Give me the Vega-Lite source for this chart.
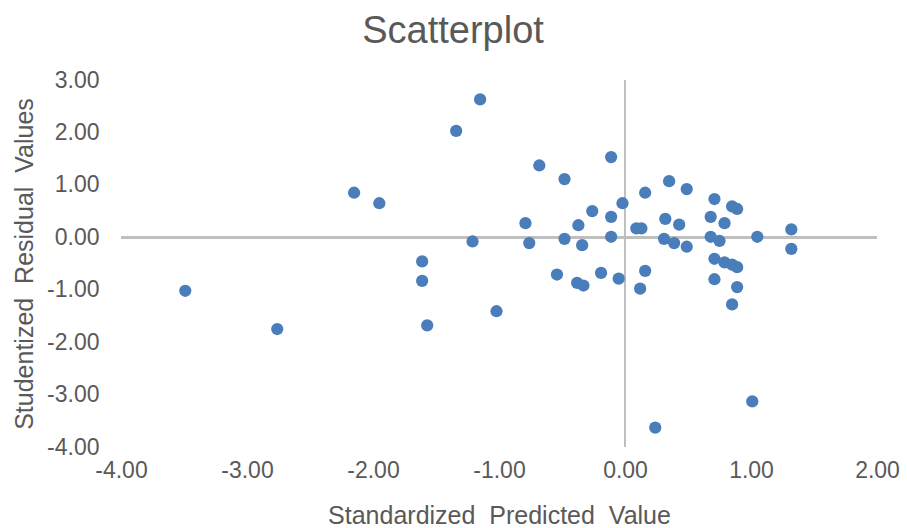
{
  "$schema": "https://vega.github.io/schema/vega-lite/v6.json",
  "width": 756,
  "height": 367,
  "autosize": {"type": "none"},
  "padding": {"left": 121, "top": 80, "right": 30, "bottom": 81},
  "background": "white",
  "config": {
    "view": {"stroke": null},
    "font": "Liberation Sans"
  },
  "title": {
    "text": "Scatterplot",
    "fontSize": 38,
    "font": "Liberation Sans",
    "fontWeight": "normal",
    "color": "#595959",
    "anchor": "middle",
    "dx": -46,
    "offset": 18
  },
  "data": {
    "values": [
      {"pred": -3.49, "resid": -1.02},
      {"pred": -2.76, "resid": -1.75},
      {"pred": -2.15, "resid": 0.85},
      {"pred": -1.95, "resid": 0.65},
      {"pred": -1.61, "resid": -0.46},
      {"pred": -1.61, "resid": -0.83},
      {"pred": -1.57, "resid": -1.68},
      {"pred": -1.34, "resid": 2.03},
      {"pred": -1.21, "resid": -0.08},
      {"pred": -1.15, "resid": 2.63},
      {"pred": -1.02, "resid": -1.41},
      {"pred": -0.79, "resid": 0.27},
      {"pred": -0.76, "resid": -0.11},
      {"pred": -0.68, "resid": 1.37},
      {"pred": -0.54, "resid": -0.71},
      {"pred": -0.48, "resid": 1.11},
      {"pred": -0.48, "resid": -0.03},
      {"pred": -0.38, "resid": -0.87},
      {"pred": -0.37, "resid": 0.23},
      {"pred": -0.34, "resid": -0.15},
      {"pred": -0.33, "resid": -0.92},
      {"pred": -0.26, "resid": 0.5},
      {"pred": -0.19, "resid": -0.68},
      {"pred": -0.11, "resid": 1.53},
      {"pred": -0.11, "resid": 0.39},
      {"pred": -0.11, "resid": 0.01},
      {"pred": -0.05, "resid": -0.79},
      {"pred": -0.02, "resid": 0.65},
      {"pred": 0.09, "resid": 0.17},
      {"pred": 0.13, "resid": 0.17},
      {"pred": 0.12, "resid": -0.98},
      {"pred": 0.16, "resid": 0.85},
      {"pred": 0.16, "resid": -0.64},
      {"pred": 0.24, "resid": -3.63},
      {"pred": 0.31, "resid": -0.03},
      {"pred": 0.32, "resid": 0.35},
      {"pred": 0.35, "resid": 1.07},
      {"pred": 0.39, "resid": -0.11},
      {"pred": 0.43, "resid": 0.24},
      {"pred": 0.49, "resid": -0.18},
      {"pred": 0.49, "resid": 0.92},
      {"pred": 0.68, "resid": 0.39},
      {"pred": 0.68, "resid": 0.01},
      {"pred": 0.71, "resid": 0.73},
      {"pred": 0.71, "resid": -0.41},
      {"pred": 0.71, "resid": -0.8},
      {"pred": 0.75, "resid": -0.07},
      {"pred": 0.79, "resid": 0.27},
      {"pred": 0.79, "resid": -0.48},
      {"pred": 0.85, "resid": 0.59},
      {"pred": 0.85, "resid": -0.52},
      {"pred": 0.85, "resid": -1.28},
      {"pred": 0.89, "resid": 0.54},
      {"pred": 0.89, "resid": -0.57},
      {"pred": 0.89, "resid": -0.95},
      {"pred": 1.01, "resid": -3.13},
      {"pred": 1.05, "resid": 0.01},
      {"pred": 1.32, "resid": 0.15},
      {"pred": 1.32, "resid": -0.22}
    ]
  },
  "layer": [
    {
      "mark": {"type": "rule", "color": "#bfbfbf", "strokeWidth": 2},
      "encoding": {"y": {"datum": 0, "type": "quantitative"}}
    },
    {
      "mark": {"type": "rule", "color": "#bfbfbf", "strokeWidth": 2},
      "encoding": {"x": {"datum": 0, "type": "quantitative"}}
    },
    {
      "mark": {"type": "circle", "size": 150, "color": "#4a7ebb", "opacity": 1},
      "encoding": {
        "x": {
          "field": "pred",
          "type": "quantitative",
          "scale": {"domain": [-4, 2], "nice": false, "zero": false},
          "axis": {
            "title": "Standardized\u00a0 Predicted\u00a0 Value",
            "values": [-4, -3, -2, -1, 0, 1, 2],
            "labelExpr": "replace(format(datum.value, '.2f'), '\u2212', '-')",
            "domain": false,
            "ticks": false,
            "grid": false,
            "labelFontSize": 23,
            "labelColor": "#595959",
            "labelFont": "Liberation Sans",
            "labelPadding": 12,
            "labelFlush": false,
            "labelOverlap": false,
            "titleFontSize": 25,
            "titleFontWeight": "normal",
            "titleColor": "#595959",
            "titleFont": "Liberation Sans",
            "titlePadding": 21
          }
        },
        "y": {
          "field": "resid",
          "type": "quantitative",
          "scale": {"domain": [-4, 3], "nice": false, "zero": false},
          "axis": {
            "title": "Studentized\u00a0 Residual\u00a0 Values",
            "values": [-4, -3, -2, -1, 0, 1, 2, 3],
            "labelExpr": "replace(format(datum.value, '.2f'), '\u2212', '-')",
            "domain": false,
            "ticks": false,
            "grid": false,
            "labelFontSize": 23,
            "labelColor": "#595959",
            "labelFont": "Liberation Sans",
            "labelPadding": 22,
            "labelFlush": false,
            "labelOverlap": false,
            "titleFontSize": 25,
            "titleFontWeight": "normal",
            "titleColor": "#595959",
            "titleFont": "Liberation Sans",
            "titlePadding": 9
          }
        }
      }
    }
  ]
}
